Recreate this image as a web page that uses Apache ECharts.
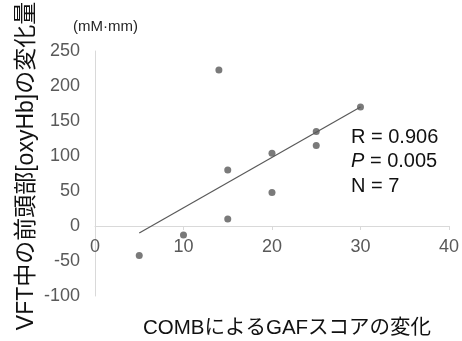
<!DOCTYPE html>
<html><head><meta charset="utf-8">
<script src="https://cdn.jsdelivr.net/npm/echarts@6/dist/echarts.min.js"></script>
<style>html,body{margin:0;padding:0;background:#fff}#c{width:462px;height:341px}</style>
</head><body><div id="c"></div>
<script>
const xValues = [5, 10, 14, 15, 15, 20, 20, 25, 25, 30];
const yValues = [-42, -13, 223, 80, 10, 104, 48, 135, 115, 170];
const trendX = [5, 30];
const trendY = [-10, 170];
const statLines = ['R = 0.906', '{i|P} = 0.005', 'N = 7'];
const xTitle = 'COMBによるGAFスコアの変化';
const yTitle = 'VFT中の前頭部[oxyHb]の変化量';
const unitLabel = '(mM·mm)';

const FONT = '"Liberation Sans", "Noto Sans CJK JP", sans-serif';
const chart = echarts.init(document.getElementById('c'), null, {renderer: 'canvas'});
const gridTop = 51, gridBottom = 45, H = 341;
const yMin = -100, yMax = 250;
const plotH = H - gridTop - gridBottom;
const zeroOffset = -plotH * (0 - yMin) / (yMax - yMin);
chart.setOption({
  animation: false,
  backgroundColor: '#fff',
  grid: {left: 95, right: 13, top: gridTop, bottom: gridBottom},
  xAxis: {
    type: 'value', min: 0, max: 40, interval: 10,
    offset: zeroOffset,
    axisLine: {onZero: false, lineStyle: {color: '#d9d9d9', width: 1}},
    axisTick: {show: true, length: 4, lineStyle: {color: '#d9d9d9'}},
    axisLabel: {color: '#595959', fontSize: 18, fontFamily: FONT, margin: 12},
    splitLine: {show: false}
  },
  yAxis: {
    type: 'value', min: yMin, max: yMax, interval: 50,
    axisLine: {show: true, onZero: false, lineStyle: {color: '#d9d9d9', width: 1}},
    axisTick: {show: false},
    axisLabel: {color: '#595959', fontSize: 18, fontFamily: FONT, margin: 15},
    splitLine: {show: false}
  },
  series: [
    {
      type: 'line', data: trendX.map((x, i) => [x, trendY[i]]),
      symbol: 'none', lineStyle: {color: '#595959', width: 1.2}, silent: true
    },
    {
      type: 'scatter', data: xValues.map((x, i) => [x, yValues[i]]),
      symbolSize: 7, itemStyle: {color: '#595959'}
    }
  ],
  graphic: [
    {type: 'text', x: 73, y: 27, style: {text: unitLabel, fontSize: 15, fontFamily: FONT, fill: '#262626', verticalAlign: 'middle'}},
    {type: 'text', x: 287, y: 328, style: {text: xTitle, fontSize: 20.5, fontFamily: FONT, fill: '#111', align: 'center', verticalAlign: 'middle'}},
    {type: 'text', x: 27, y: 166, rotation: Math.PI / 2, style: {text: yTitle, fontSize: 23, fontFamily: FONT, fill: '#111', align: 'center', verticalAlign: 'middle'}},
    {type: 'text', x: 351, y: 125, style: {
      text: statLines.join('\n'), fontSize: 20, lineHeight: 24.5, fontFamily: FONT, fill: '#111', verticalAlign: 'top',
      rich: {i: {fontStyle: 'italic', fontSize: 20, fontFamily: FONT, fill: '#111'}}
    }}
  ]
});
</script></body></html>
